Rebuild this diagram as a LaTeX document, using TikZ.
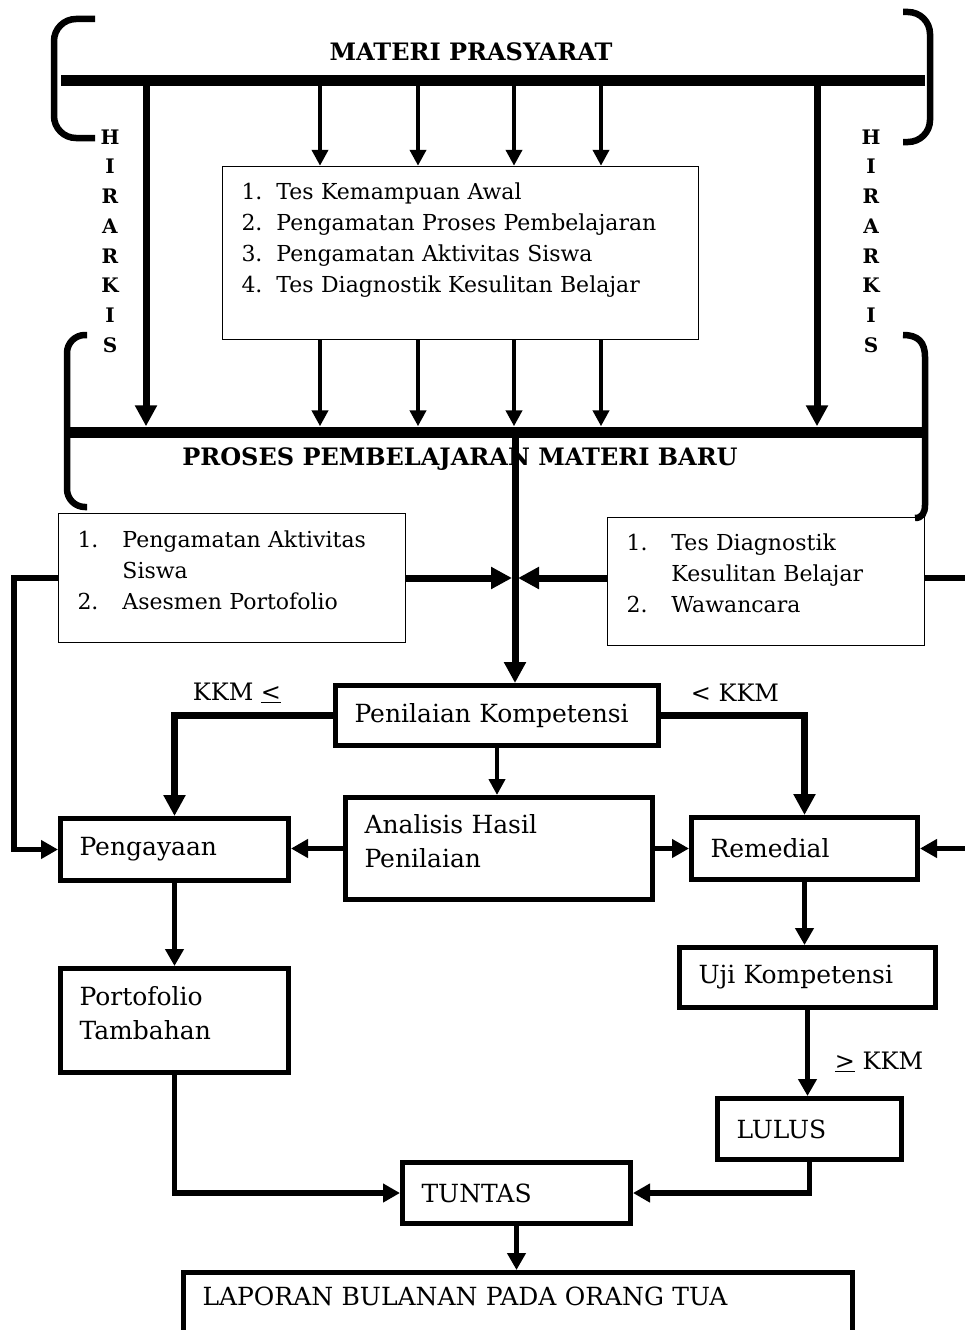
\documentclass[tikz,border=0pt]{standalone}
\usepackage{fontspec}
\setmainfont{DejaVu Serif}
\usetikzlibrary{arrows.meta,calc}

\newcommand{\upfont}{\fontsize{22}{31}\selectfont}
\newcommand{\lowfont}{\fontsize{25}{34}\selectfont}
\newcommand{\headfont}{\fontsize{24}{29}\selectfont\bfseries}
\newcommand{\hirarkis}{H\\I\\R\\A\\R\\K\\I\\S}

\begin{document}
\begin{tikzpicture}[x=1pt, y=-1pt,
    bar/.style={fill=black, inner sep=0pt, minimum height=11pt},
    thinbox/.style={draw, line width=1.5pt, inner xsep=19pt, inner ysep=0pt, align=left, font=\upfont},
    thickbox/.style={draw, line width=5pt, inner xsep=19pt, inner ysep=0pt, align=left, font=\lowfont},
    bracket/.style={line width=6.5pt},
    hir/.style={font=\fontsize{20}{29.7}\selectfont\bfseries, align=center},
    lbl/.style={font=\fontsize{24}{29}\selectfont},
    arrbig/.style={line width=7pt, -{Triangle[length=21pt,width=21pt]}},
    arrmid/.style={line width=5.5pt, -{Triangle[length=17pt,width=18pt]}},
    arrsmall/.style={line width=4.5pt, -{Triangle[length=16pt,width=16pt]}}]
    \useasboundingbox (0,0) rectangle (964,1330);

    % Brackets of the hierarchy
    \draw[bracket, rounded corners=22pt] (95,19) -- (54,19) -- (54,138) -- (95,138);
    \draw[bracket, rounded corners=22pt] (903,12) -- (930,12) -- (930,142) -- (903,142);
    \draw[bracket, rounded corners=18pt] (87,335) -- (67,335) -- (67,507) -- (87,507);
    \draw[bracket] (903,335) .. controls (918,335) and (925,342) .. (925,357) -- (925,505)
        .. controls (925,513) and (922,518) .. (915,518);
    \node[hir] (hirL) at (110,241) {\hirarkis};
    \node[hir] (hirR) at (871,241) {\hirarkis};

    % Materi prasyarat
    \node[font=\headfont] (prasyarat) at (471,52) {MATERI PRASYARAT};
    \node[bar, minimum width=864pt] (top) at (493,80) {};

    % Asesmen awal
    \node[thinbox, text width=438pt, minimum height=173pt] (awal) at (460.5,253) {%
        \begin{tabular}{@{}l@{\hspace{14pt}}l@{}}
        1. & Tes Kemampuan Awal\\
        2. & Pengamatan Proses Pembelajaran\\
        3. & Pengamatan Aktivitas Siswa\\
        4. & Tes Diagnostik Kesulitan Belajar\\[26pt]
        \end{tabular}};

    % Proses pembelajaran materi baru
    \node[bar, minimum width=861pt] (mid) at (497.5,432) {};
    \node[font=\headfont] (proses) at (460,459) {PROSES PEMBELAJARAN MATERI BARU};

    \draw[arrbig] (top.south -| 146,0) -- (mid.north -| 146,0);
    \draw[arrbig] (top.south -| 817,0) -- (mid.north -| 817,0);
    \foreach \x in {320,418,514,601} {
        \draw[arrsmall] (top.south -| \x,0) -- (awal.north -| \x,0);
        \draw[arrsmall] (awal.south -| \x,0) -- (mid.north -| \x,0);
    }

    % Asesmen selama proses
    \node[thinbox, text width=309pt, minimum height=129pt] (aktivitas) at (232,578) {%
        \begin{tabular}{@{}l@{\hspace{24pt}}l@{}}
        1. & Pengamatan Aktivitas\\
           & Siswa\\
        2. & Asesmen Portofolio\\[12pt]
        \end{tabular}};
    \node[thinbox, text width=279pt, minimum height=128pt] (diagnostik) at (766,581.5) {%
        \begin{tabular}{@{}l@{\hspace{24pt}}l@{}}
        1. & Tes Diagnostik\\
           & Kesulitan Belajar\\
        2. & Wawancara\\[12pt]
        \end{tabular}};

    % Penilaian dan tindak lanjut
    \node[thickbox, text width=285pt, minimum height=60pt] (penilaian) at (497,715.5) {Penilaian Kompetensi};
    \node[thickbox, text width=269pt, minimum height=102pt] (analisis) at (499,848.5) {%
        \begin{tabular}{@{}l@{}}Analisis Hasil\\Penilaian\\[10pt]\end{tabular}};
    \node[thickbox, text width=190pt, minimum height=62pt] (pengayaan) at (174.5,849.5) {Pengayaan};
    \node[thickbox, text width=188pt, minimum height=62pt] (remedial) at (804.5,848.5) {Remedial};
    \node[thickbox, text width=190pt, minimum height=104pt] (portofolio) at (174.5,1020.5) {%
        \begin{tabular}{@{}l@{}}Portofolio\\Tambahan\\[10pt]\end{tabular}};
    \node[thickbox, text width=218pt, minimum height=60pt] (uji) at (807.5,977.5) {Uji Kompetensi};
    \node[thickbox, text width=146pt, minimum height=61pt] (lulus) at (809.5,1129) {LULUS};
    \node[thickbox, text width=190pt, minimum height=61pt] (tuntas) at (516.5,1193) {TUNTAS};
    \node[thickbox, text width=631pt, minimum height=85pt] (laporan) at (518,1315) {%
        \begin{tabular}{@{}l@{}}LAPORAN BULANAN PADA ORANG TUA\\[32pt]\end{tabular}};

    \node[lbl] (kkmkiri) at (237,693) {KKM \underline{<}};
    \node[lbl] (kkmkanan) at (735,693) {< KKM};
    \node[lbl] (kkmlulus) at (879,1062) {\underline{>} KKM};

    % Connectors
    \coordinate (jn) at (515,578);
    \draw[arrbig] (mid.south -| jn) -- (penilaian.north -| jn);
    \draw[arrbig, shorten >=3pt] (aktivitas.east |- jn) -- (jn);
    \draw[arrbig, shorten >=3pt] (diagnostik.west |- jn) -- (jn);
    \draw[arrmid] (aktivitas.west |- jn) -- ++(-44,0) |- (pengayaan.west);
    \draw[arrmid] (diagnostik.east |- jn) -- ++(60,0) |- (remedial.east);

    \draw[arrbig, line width=6.5pt] (penilaian.west) -| (pengayaan.north);
    \draw[arrbig, line width=6.5pt] (penilaian.east) -| (remedial.north);
    \draw[arrsmall] (penilaian.south) -- (penilaian.south |- analisis.north);
    \draw[arrmid] (analisis.west) -- (analisis.west -| pengayaan.east);
    \draw[arrmid] (analisis.east) -- (analisis.east -| remedial.west);

    \draw[arrmid] (pengayaan.south) -- (portofolio.north);
    \draw[arrmid] (remedial.south) -- (remedial.south |- uji.north);
    \draw[arrmid] (uji.south) -- (uji.south |- lulus.north);
    \draw[arrmid] (portofolio.south) |- (tuntas.west);
    \draw[arrmid] (lulus.south) |- (tuntas.east);
    \draw[arrmid] (tuntas.south) -- (tuntas.south |- laporan.north);
\end{tikzpicture}
\end{document}
